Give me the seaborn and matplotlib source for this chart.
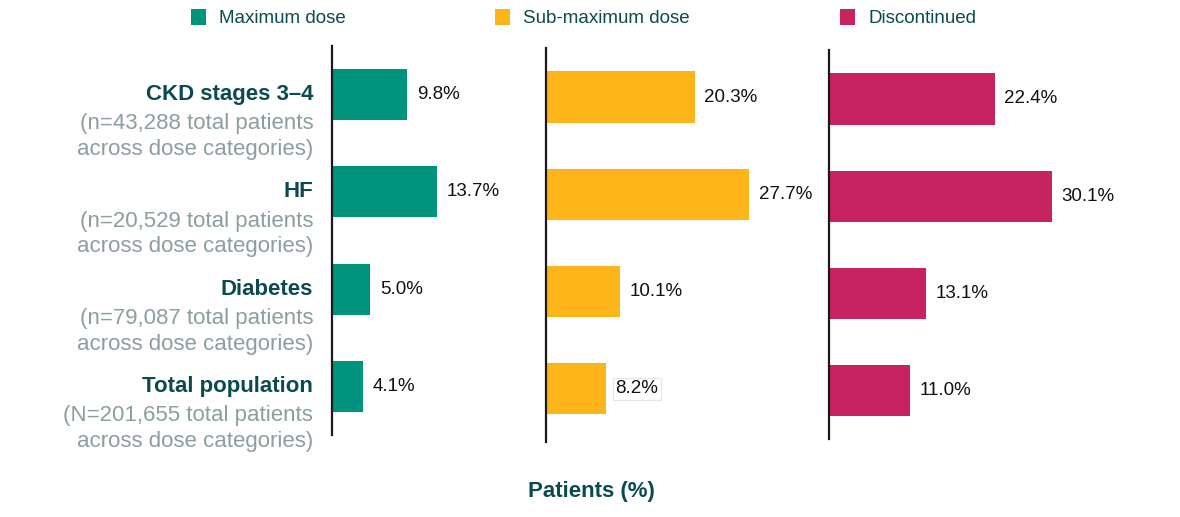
import matplotlib
matplotlib.use("Agg")
import matplotlib.pyplot as plt
import seaborn as sns
import pandas as pd
from matplotlib.patches import Patch

# ---- data ----
categories = ["CKD stages 3\u20134", "HF", "Diabetes", "Total population"]
subtitles = [
    "(n=43,288 total patients\nacross dose categories)",
    "(n=20,529 total patients\nacross dose categories)",
    "(n=79,087 total patients\nacross dose categories)",
    "(N=201,655 total patients\nacross dose categories)",
]
series_names = ["Maximum dose", "Sub-maximum dose", "Discontinued"]
maximum_dose = [9.8, 13.7, 5.0, 4.1]
sub_maximum_dose = [20.3, 27.7, 10.1, 8.2]
discontinued = [22.4, 30.1, 13.1, 11.0]
xlabel = "Patients (%)"

colors = ["#00937E", "#FDB519", "#C72361"]
dark = "#0B4A4E"
grey = "#8C9E9F"

df = pd.DataFrame({
    "category": categories * 3,
    "series": sum([[s] * 4 for s in series_names], []),
    "value": maximum_dose + sub_maximum_dose + discontinued,
})

sns.set_theme(style="white")
plt.rcParams["font.family"] = ["Liberation Sans", "DejaVu Sans"]

W, H = 1180, 517
fig = plt.figure(figsize=(W / 100, H / 100), dpi=100)

# layout in pixels: (axis x0, px per %, axes width px, first bar centre, top, bottom)
panels = [
    (332, 7.65, 205, 94.5, 46, 435),
    (545.5, 7.35, 275, 97.0, 48, 442),
    (829, 7.40, 340, 99.0, 50, 439),
]
step = 97.3

axes = []
for (x0, sc, wpx, c0, top, bot), name, col in zip(panels, series_names, colors):
    ax = fig.add_axes([x0 / W, 1 - bot / H, wpx / W, (bot - top) / H])
    sub = df[df["series"] == name]
    sns.barplot(data=sub, x="value", y="category", orient="h", color=col,
                width=0.525, linewidth=0, saturation=1, ax=ax)
    ax.set_xlim(0, wpx / sc)
    ax.set_ylim((bot - c0) / step, (top - c0) / step)
    for s in ["top", "right", "bottom"]:
        ax.spines[s].set_visible(False)
    ax.spines["left"].set_color("#1a1a1a")
    ax.spines["left"].set_linewidth(1.6)
    ax.set_xticks([])
    ax.set_yticks([])
    ax.set_xlabel("")
    ax.set_ylabel("")
    ax.patch.set_alpha(0)
    labels = ax.bar_label(ax.containers[0], fmt="%.1f%%", padding=7,
                          fontsize=13.5, color="#111111")
    if name == "Sub-maximum dose":
        labels[-1].set_bbox(dict(facecolor="white", edgecolor="#e6e6e6",
                                 linewidth=0.8, pad=2))
    axes.append(ax)

# left category labels
ax0 = axes[0]
for i, (cat, subt) in enumerate(zip(categories, subtitles)):
    ax0.annotate(cat, xy=(0, i), xycoords=("axes fraction", "data"),
                 xytext=(-13.5, 0), textcoords="offset points",
                 ha="right", va="center", fontsize=16, fontweight="bold",
                 color=dark)
    ax0.annotate(subt, xy=(0, i), xycoords=("axes fraction", "data"),
                 xytext=(-13.5, -13.5), textcoords="offset points",
                 ha="right", va="top", fontsize=16, color=grey,
                 linespacing=1.3)

# legends
leg_x = [191, 495, 840]
for lx, name, col in zip(leg_x, series_names, colors):
    fig.legend(handles=[Patch(facecolor=col, edgecolor="none", label=name)],
               loc="center left", bbox_to_anchor=(lx / W, 1 - 18 / H),
               frameon=False, fontsize=13.5, handlelength=0.8,
               handleheight=0.95, handletextpad=0.7, borderpad=0,
               borderaxespad=0, labelcolor=dark)

fig.text(591 / W, 1 - 491 / H, xlabel, ha="center", va="center",
         fontsize=16, fontweight="bold", color=dark)

fig.savefig("out.png", dpi=100, facecolor="white")
